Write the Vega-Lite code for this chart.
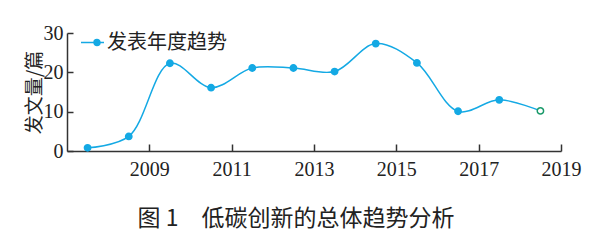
{
  "$schema": "https://vega.github.io/schema/vega-lite/v6.json",
  "width": 494,
  "height": 118,
  "autosize": {"type": "none"},
  "padding": {"left": 67, "top": 33, "right": 39, "bottom": 99},
  "background": "white",
  "config": {"view": {"stroke": null}, "font": "Liberation Serif"},
  "title": {
    "text": "图 1　低碳创新的总体趋势分析",
    "orient": "bottom",
    "anchor": "middle",
    "fontSize": 23,
    "font": "Noto Sans CJK SC",
    "fontWeight": "normal",
    "color": "#222222",
    "offset": 29,
    "dx": -18
  },
  "data": {
    "values": [
      {"year": 2007.5, "count": 0.8, "series": "发表年度趋势"},
      {"year": 2008.5, "count": 3.7, "series": "发表年度趋势"},
      {"year": 2009.5, "count": 22.3, "series": "发表年度趋势"},
      {"year": 2010.5, "count": 16.1, "series": "发表年度趋势"},
      {"year": 2011.5, "count": 21.1, "series": "发表年度趋势"},
      {"year": 2012.5, "count": 21.1, "series": "发表年度趋势"},
      {"year": 2013.5, "count": 20.2, "series": "发表年度趋势"},
      {"year": 2014.5, "count": 27.3, "series": "发表年度趋势"},
      {"year": 2015.5, "count": 22.4, "series": "发表年度趋势"},
      {"year": 2016.5, "count": 10.1, "series": "发表年度趋势"},
      {"year": 2017.5, "count": 13.0, "series": "发表年度趋势"},
      {"year": 2018.5, "count": 10.2, "series": "发表年度趋势"}
    ]
  },
  "encoding": {
    "x": {
      "field": "year",
      "type": "quantitative",
      "scale": {"domain": [2007, 2019], "nice": false, "zero": false},
      "axis": {
        "title": null,
        "values": [2009, 2011, 2013, 2015, 2017, 2019],
        "format": "d",
        "grid": false,
        "domainColor": "#333333",
        "domainWidth": 1.5,
        "tickColor": "#333333",
        "tickWidth": 1.5,
        "tickSize": -7,
        "labelPadding": 15,
        "labelFont": "Liberation Serif",
        "labelFontSize": 20,
        "labelColor": "#222222",
        "labelFlush": false
      }
    },
    "y": {
      "field": "count",
      "type": "quantitative",
      "scale": {"domain": [0, 30], "nice": false},
      "axis": {
        "title": "发文量/篇",
        "titleFont": "Noto Sans CJK SC",
        "titleFontSize": 19,
        "titleFontWeight": "normal",
        "titleColor": "#222222",
        "titlePadding": -1,
        "values": [0, 10, 20, 30],
        "grid": false,
        "domainColor": "#333333",
        "domainWidth": 1.5,
        "tickColor": "#333333",
        "tickWidth": 1.5,
        "tickSize": -6,
        "labelPadding": 10,
        "labelFont": "Liberation Serif",
        "labelFontSize": 20,
        "labelColor": "#222222",
        "labelFlush": false
      }
    }
  },
  "layer": [
    {
      "mark": {"type": "line", "interpolate": "catmull-rom", "strokeWidth": 1.5},
      "encoding": {
        "color": {
          "field": "series",
          "type": "nominal",
          "scale": {"range": ["#14a9e4"]},
          "legend": {
            "orient": "none",
            "legendX": 13,
            "legendY": -3,
            "title": null,
            "padding": 0,
            "labelFont": "Noto Sans CJK SC",
            "labelFontSize": 20,
            "labelColor": "#222222",
            "labelOffset": 2,
            "symbolType": "M-1,0H1M0.13,0A0.26,0.26,0,1,0,0.65,0A0.26,0.26,0,1,0,0.13,0Z",
            "symbolSize": 529,
            "symbolStrokeWidth": 1.5,
            "symbolFillColor": "#14a9e4",
            "symbolStrokeColor": "#14a9e4"
          }
        }
      }
    },
    {
      "mark": {"type": "point", "filled": true, "size": 40, "opacity": 1, "strokeWidth": 1.5},
      "encoding": {
        "fill": {"condition": {"test": "datum.year == 2018.5", "value": "white"}, "value": "#14a9e4"},
        "stroke": {"condition": {"test": "datum.year == 2018.5", "value": "#1a9a6a"}, "value": "#14a9e4"}
      }
    }
  ]
}
